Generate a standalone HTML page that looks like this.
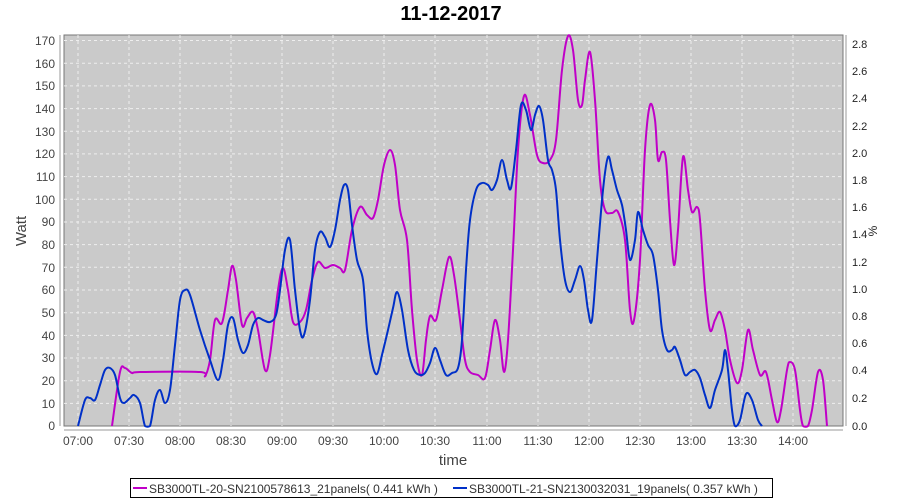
<!DOCTYPE html>
<html><head><meta charset="utf-8"><style>
body{margin:0;background:#fff;}
svg{display:block;font-family:"Liberation Sans",sans-serif;}
</style></head><body>
<svg id="s" width="900" height="500" viewBox="0 0 900 500">
<rect width="900" height="500" fill="#fff"/>
<text x="451" y="20" text-anchor="middle" font-size="20" font-weight="bold" fill="#000">11-12-2017</text>
<rect x="64" y="35" width="779" height="391" fill="#cacaca" stroke="#777" stroke-width="1"/>
<g stroke="#eee" stroke-width="1" stroke-dasharray="3,3">
<line x1="64" x2="843" y1="40.5" y2="40.5"/><line x1="64" x2="843" y1="63.2" y2="63.2"/><line x1="64" x2="843" y1="85.9" y2="85.9"/><line x1="64" x2="843" y1="108.6" y2="108.6"/><line x1="64" x2="843" y1="131.2" y2="131.2"/><line x1="64" x2="843" y1="153.9" y2="153.9"/><line x1="64" x2="843" y1="176.6" y2="176.6"/><line x1="64" x2="843" y1="199.3" y2="199.3"/><line x1="64" x2="843" y1="222" y2="222"/><line x1="64" x2="843" y1="244.6" y2="244.6"/><line x1="64" x2="843" y1="267.3" y2="267.3"/><line x1="64" x2="843" y1="290" y2="290"/><line x1="64" x2="843" y1="312.7" y2="312.7"/><line x1="64" x2="843" y1="335.4" y2="335.4"/><line x1="64" x2="843" y1="358" y2="358"/><line x1="64" x2="843" y1="380.7" y2="380.7"/><line x1="64" x2="843" y1="403.4" y2="403.4"/>
<line y1="35" y2="426" x1="78" x2="78"/><line y1="35" y2="426" x1="129" x2="129"/><line y1="35" y2="426" x1="180" x2="180"/><line y1="35" y2="426" x1="231" x2="231"/><line y1="35" y2="426" x1="282" x2="282"/><line y1="35" y2="426" x1="333" x2="333"/><line y1="35" y2="426" x1="384" x2="384"/><line y1="35" y2="426" x1="435" x2="435"/><line y1="35" y2="426" x1="487" x2="487"/><line y1="35" y2="426" x1="538" x2="538"/><line y1="35" y2="426" x1="589" x2="589"/><line y1="35" y2="426" x1="640" x2="640"/><line y1="35" y2="426" x1="691" x2="691"/><line y1="35" y2="426" x1="742" x2="742"/><line y1="35" y2="426" x1="793" x2="793"/>
</g>
<g font-size="12" fill="#444" text-anchor="end">
<text x="55" y="45">170</text><text x="55" y="68">160</text><text x="55" y="90">150</text><text x="55" y="113">140</text><text x="55" y="136">130</text><text x="55" y="158">120</text><text x="55" y="181">110</text><text x="55" y="204">100</text><text x="55" y="226">90</text><text x="55" y="249">80</text><text x="55" y="272">70</text><text x="55" y="294">60</text><text x="55" y="317">50</text><text x="55" y="340">40</text><text x="55" y="362">30</text><text x="55" y="385">20</text><text x="55" y="408">10</text><text x="55" y="430">0</text>
</g>
<line x1="60" x2="60" y1="35" y2="426" stroke="#999"/>
<g font-size="11" fill="#222">
<text x="852" y="48">2.8</text><text x="852" y="75">2.6</text><text x="852" y="102">2.4</text><text x="852" y="130">2.2</text><text x="852" y="157">2.0</text><text x="852" y="184">1.8</text><text x="852" y="211">1.6</text><text x="852" y="238">1.4</text><text x="852" y="266">1.2</text><text x="852" y="293">1.0</text><text x="852" y="320">0.8</text><text x="852" y="347">0.6</text><text x="852" y="374">0.4</text><text x="852" y="402">0.2</text><text x="852" y="430">0.0</text>
</g>
<line x1="846" x2="846" y1="35" y2="426" stroke="#999"/>
<line x1="64" x2="843" y1="430" y2="430" stroke="#999"/>
<g font-size="12" fill="#444" text-anchor="middle">
<text x="78" y="445">07:00</text><text x="129" y="445">07:30</text><text x="180" y="445">08:00</text><text x="231" y="445">08:30</text><text x="282" y="445">09:00</text><text x="333" y="445">09:30</text><text x="384" y="445">10:00</text><text x="435" y="445">10:30</text><text x="487" y="445">11:00</text><text x="538" y="445">11:30</text><text x="589" y="445">12:00</text><text x="640" y="445">12:30</text><text x="691" y="445">13:00</text><text x="742" y="445">13:30</text><text x="793" y="445">14:00</text>
</g>
<text x="453" y="465" text-anchor="middle" font-size="15" fill="#444">time</text>
<text transform="translate(26,231) rotate(-90)" text-anchor="middle" font-size="15" fill="#444">Watt</text>
<text transform="translate(877,231) rotate(-90)" text-anchor="middle" font-size="12" fill="#222">%</text>
<polyline class="sm" fill="none" stroke="#c000c8" stroke-width="2" stroke-linejoin="round" points="112,426 120,372 125,368 132,373 140,372 200,372 205,376 210,360 215,320 222,323 228,290 232,266 236,280 242,325 247,318 253,312 258,330 265,370 270,355 278,290 283,268 288,290 293,322 300,322 306,310 312,280 318,262 325,268 333,265 340,268 345,270 352,230 360,207 367,215 373,218 378,200 384,165 390,150 395,165 400,210 407,240 412,310 417,360 422,375 426,340 430,316 436,320 442,290 449,257 454,275 460,320 465,360 470,372 478,375 485,378 490,350 495,320 500,340 504,372 508,340 513,250 518,150 524,96 530,115 537,155 543,163 550,160 556,140 562,70 568,36 573,50 578,100 582,105 585,80 590,52 595,100 600,180 605,210 612,213 618,212 625,240 630,310 634,320 640,260 645,150 650,105 655,120 658,160 662,152 666,160 670,220 674,265 678,230 683,157 688,190 692,212 697,207 700,220 705,290 710,330 715,320 720,312 725,330 730,360 737,383 742,370 748,330 753,350 760,375 766,372 772,400 777,422 781,410 787,370 790,362 795,370 800,410 803,426 808,426 812,410 818,372 823,380 827,426"/>
<polyline class="sm" fill="none" stroke="#0030c8" stroke-width="2" stroke-linejoin="round" points="78,426 85,400 90,398 95,400 100,385 105,370 110,368 115,375 120,398 124,403 130,398 134,395 140,403 145,426 150,426 155,400 160,390 165,403 170,390 175,345 180,300 185,290 190,295 200,330 210,360 218,380 223,360 228,325 233,318 238,340 243,353 248,345 253,325 258,318 263,320 270,322 276,315 280,290 285,250 290,240 295,290 300,330 304,335 310,300 315,250 320,232 325,237 330,247 335,230 340,200 344,185 348,190 352,225 357,260 363,280 367,330 372,363 377,374 382,355 388,330 393,308 397,292 402,310 408,350 414,370 420,375 425,373 430,363 435,348 440,360 446,375 452,373 458,368 462,340 466,270 470,220 476,190 482,183 488,185 492,190 497,180 502,160 507,180 511,188 516,150 521,105 526,110 531,130 535,115 539,106 543,120 548,160 552,170 556,190 560,240 565,280 570,292 575,280 580,266 584,280 588,310 592,320 597,260 603,190 608,157 612,170 617,190 622,205 626,230 630,260 635,240 638,212 643,230 648,245 653,255 658,290 662,330 667,350 672,350 675,347 680,360 685,375 690,372 695,370 700,378 705,395 710,408 715,390 722,370 725,350 728,370 732,410 735,426 740,420 746,394 752,400 758,420 762,426"/>
<rect x="130.5" y="478.5" width="642" height="19" fill="#fff" stroke="#000"/>
<line x1="133" x2="147" y1="488" y2="488" stroke="#c000c8" stroke-width="2"/>
<text x="149" y="493" font-size="12" fill="#333">SB3000TL-20-SN2100578613_21panels( 0.441 kWh  )</text>
<line x1="453" x2="467" y1="488" y2="488" stroke="#0030c8" stroke-width="2"/>
<text x="469" y="493" font-size="12" fill="#333">SB3000TL-21-SN2130032031_19panels( 0.357 kWh  )</text>
</svg>
<script>
document.querySelectorAll('polyline.sm').forEach(function(pl){
  var p=pl.getAttribute('points').trim().split(/\s+/).map(function(s){return s.split(',').map(Number);});
  var d='M'+p[0][0]+','+p[0][1];
  for(var i=0;i<p.length-1;i++){
    var p0=p[i-1]||p[i],p1=p[i],p2=p[i+1],p3=p[i+2]||p2;
    var c1x=p1[0]+(p2[0]-p0[0])/6,c1y=p1[1]+(p2[1]-p0[1])/6;
    var c2x=p2[0]-(p3[0]-p1[0])/6,c2y=p2[1]-(p3[1]-p1[1])/6;
    c1y=Math.min(c1y,427);c2y=Math.min(c2y,427);
    d+=' C'+c1x.toFixed(1)+','+c1y.toFixed(1)+' '+c2x.toFixed(1)+','+c2y.toFixed(1)+' '+p2[0]+','+p2[1];
  }
  var path=document.createElementNS('http://www.w3.org/2000/svg','path');
  path.setAttribute('d',d);
  ['fill','stroke','stroke-width','stroke-linejoin'].forEach(function(a){path.setAttribute(a,pl.getAttribute(a));});
  pl.parentNode.replaceChild(path,pl);
});
</script>
</body></html>
